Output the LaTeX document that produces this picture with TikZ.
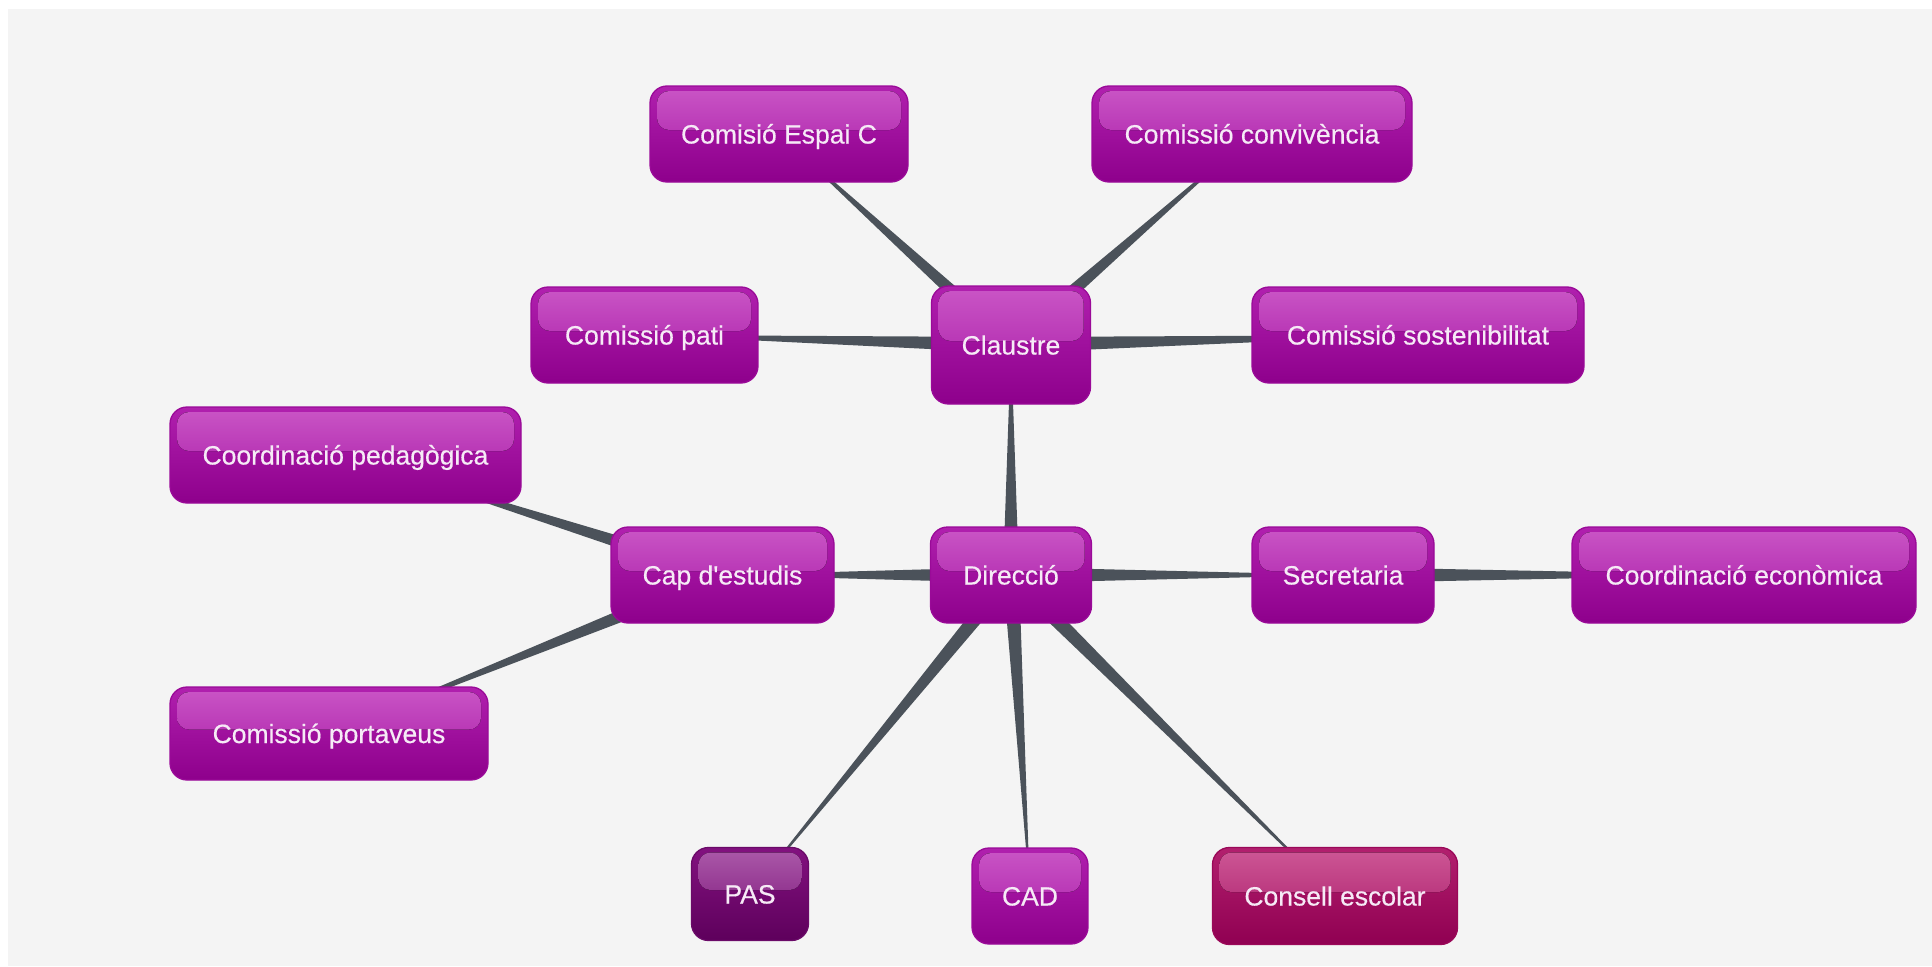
\documentclass[tikz,border=0pt]{standalone}
\usepackage{fontspec}
\newfontfamily\nodefont{Liberation Sans}[FakeBold=0.4]
\usetikzlibrary{calc}
\pgfdeclarelayer{back}
\pgfsetlayers{back,main}
\definecolor{bgc}{HTML}{F4F4F4}
\definecolor{wedgec}{HTML}{4B525A}
\definecolor{txtc}{HTML}{F6EAF6}
\definecolor{mBorder}{HTML}{9A0A98}
\definecolor{mTop}{HTML}{B020AE}
\definecolor{mBot}{HTML}{8E008C}
\definecolor{mHlT}{HTML}{CA56C6}
\definecolor{mHlB}{HTML}{A616A4}
\definecolor{pBorder}{HTML}{6A0A68}
\definecolor{pTop}{HTML}{82127F}
\definecolor{pBot}{HTML}{5E005C}
\definecolor{pHlT}{HTML}{AC5AAA}
\definecolor{pHlB}{HTML}{760E74}
\definecolor{cBorder}{HTML}{9A0858}
\definecolor{cTop}{HTML}{B2206E}
\definecolor{cBot}{HTML}{900052}
\definecolor{cHlT}{HTML}{CE5896}
\definecolor{cHlB}{HTML}{A61566}
\tikzset{
  nodebase/.style n args={5}{rounded corners=17pt, draw=#1, line width=1.3pt,
    top color=#2, bottom color=#3, text=txtc, inner sep=0pt, align=center,
    font=\nodefont\fontsize{26.5}{30}\selectfont, text height=19pt, text depth=0pt,
    path picture={\fill[rounded corners=12pt, top color=#4, bottom color=#5]
      ([xshift=7pt,yshift=-5pt]path picture bounding box.north west) rectangle
      ([xshift=-7pt,yshift=4pt]path picture bounding box.east);}},
  mbox/.style={nodebase={mBorder}{mTop}{mBot}{mHlT}{mHlB}},
  pbox/.style={nodebase={pBorder}{pTop}{pBot}{pHlT}{pHlB}},
  cbox/.style={nodebase={cBorder}{cTop}{cBot}{cHlT}{cHlB}},
  wedge/.style={fill=wedgec}
}
\begin{document}
\begin{tikzpicture}[x=1pt,y=-1pt]
\useasboundingbox (0,0) rectangle (1932,966);
\begin{pgfonlayer}{back}
\fill[white] (0,0) rectangle (1932,966);
\fill[bgc] (8,9) rectangle (1932,966);
\end{pgfonlayer}
\node[mbox, minimum width=258pt, minimum height=96pt] (espai) at (779,134) {Comisió Espai C};
\node[mbox, minimum width=320pt, minimum height=96pt] (conv) at (1252,134) {Comissió convivència};
\node[mbox, minimum width=227pt, minimum height=96pt] (pati) at (644.5,335) {Comissió pati};
\node[mbox, minimum width=159pt, minimum height=118pt] (claus) at (1011,345) {Claustre};
\node[mbox, minimum width=332pt, minimum height=96pt] (sost) at (1418,335) {Comissió sostenibilitat};
\node[mbox, minimum width=351pt, minimum height=96pt] (pedag) at (345.5,455) {Coordinació pedagògica};
\node[mbox, minimum width=223pt, minimum height=96pt] (cap) at (722.5,575) {Cap d'estudis};
\node[mbox, minimum width=161pt, minimum height=96pt] (dir) at (1011,575) {Direcció};
\node[mbox, minimum width=182pt, minimum height=96pt] (secr) at (1343,575) {Secretaria};
\node[mbox, minimum width=344pt, minimum height=96pt] (econ) at (1744,575) {Coordinació econòmica};
\node[mbox, minimum width=318pt, minimum height=93pt] (port) at (329,733.5) {Comissió portaveus};
\node[pbox, minimum width=117pt, minimum height=93pt] (pas) at (750,894) {PAS};
\node[mbox, minimum width=116pt, minimum height=96pt] (cad) at (1030,896) {CAD};
\node[cbox, minimum width=245pt, minimum height=97pt] (cons) at (1335,896) {Consell escolar};
\begin{pgfonlayer}{back}
\foreach \p/\c in {claus/espai, claus/conv, claus/pati, claus/sost, dir/claus,
  dir/cap, cap/pedag, cap/port, dir/secr, secr/econ, dir/pas, dir/cad, dir/cons}
  \fill[wedge] ($(\p.center)!8pt!90:(\c.center)$) -- (\c.center)
     -- ($(\p.center)!8pt!-90:(\c.center)$) -- cycle;
\end{pgfonlayer}
\end{tikzpicture}
\end{document}
